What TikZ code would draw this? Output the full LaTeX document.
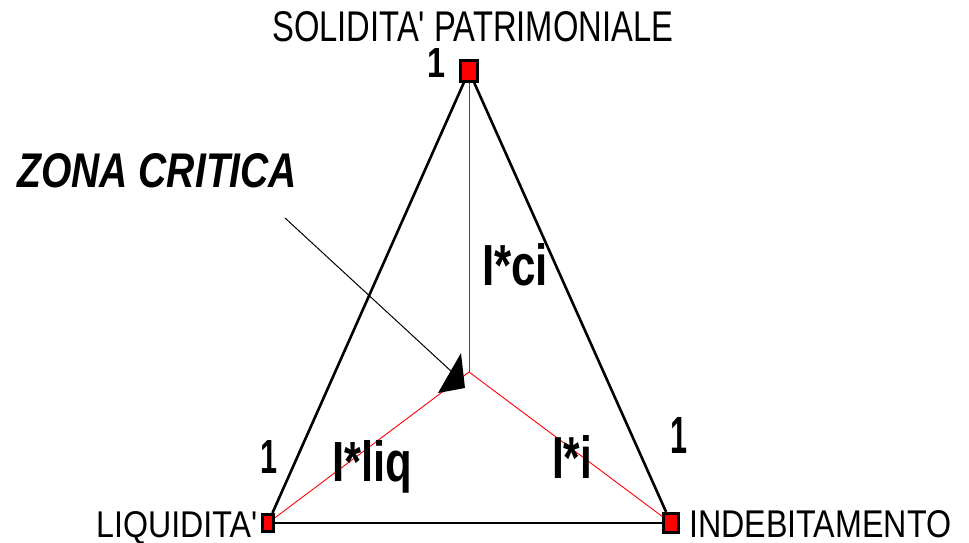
\documentclass[tikz,border=0pt]{standalone}
\usepackage{fontspec}
\setmainfont{Liberation Sans}
\usepackage{graphicx}
\usepackage{xcolor}
\usetikzlibrary{positioning, calc}
\tikzset{
  cornerbox/.style={
    rectangle, draw, line width=2.6pt, fill=red, inner sep=0pt
  },
  sideline/.style={line width=2.6pt, black},
  indexline/.style={line width=0.9pt, red},
  pointer/.style={line width=1pt, black},
  axislabel/.style={anchor=base west, inner sep=0pt},
}
% squeezed text: width, cap height, text
\newcommand{\squeezed}[3]{\resizebox{#1pt}{#2pt}{#3}}

\begin{document}
\begin{tikzpicture}[x=1pt, y=-1pt]
  \useasboundingbox (0,0) rectangle (969,543);

  % --- Corners ---
  \node[cornerbox, minimum width=16.5pt, minimum height=21pt] (solid) at (469,71) {};
  \node[cornerbox, minimum width=11.5pt, minimum height=17.5pt] (liq) at (268,523) {};
  \node[cornerbox, minimum width=14.5pt, minimum height=19.5pt] (indeb) at (671,523) {};
  \coordinate (centre) at (469,372);

  % --- Triangle ---
  \draw[sideline] (solid) -- (liq);
  \draw[sideline] (solid) -- (indeb);
  \draw[sideline] (liq) -- (indeb);

  % --- Index lines ---
  \draw[indexline] (centre) -- (solid);
  \draw[indexline] (centre) -- (liq);
  \draw[indexline] (centre) -- (indeb);

  % --- Axis names ---
  \node[axislabel] (solidname) at (272,42)
    {\squeezed{401}{30}{SOLIDITA\textquotesingle{} PATRIMONIALE}};
  \node[axislabel] (liqname) at (96,537)
    {\squeezed{161}{26}{LIQUIDITA\textquotesingle}};
  \node[axislabel] (indebname) at (689,537)
    {\squeezed{262}{27}{INDEBITAMENTO}};

  % --- Unit marks ---
  \node[axislabel] (onetop) at (427,78) {\squeezed{18}{29}{\bfseries 1}};
  \node[axislabel] (oneleft) at (260,473) {\squeezed{17}{33}{\bfseries 1}};
  \node[axislabel] (oneright) at (670,453) {\squeezed{17}{36}{\bfseries 1}};

  % --- Index names ---
  \node[axislabel] (ici) at (482,285) {\squeezed{66}{42}{\bfseries I*ci}};
  \node[axislabel] (iliq) at (332,481) {\squeezed{80}{41}{\bfseries I*liq}};
  \node[axislabel] (ii) at (552,478) {\squeezed{40}{43}{\bfseries I*i}};

  % --- Critical zone ---
  \node[axislabel] (zona) at (17,187) {\squeezed{280}{34}{\bfseries\itshape ZONA CRITICA}};
  \coordinate (zonastart) at (285,218);
  \coordinate (zonaend) at (452,372);
  \draw[pointer] (zonastart) -- (zonaend);
  \fill (461,353) -- (465,388) -- (438,393) -- cycle;
\end{tikzpicture}
\end{document}
